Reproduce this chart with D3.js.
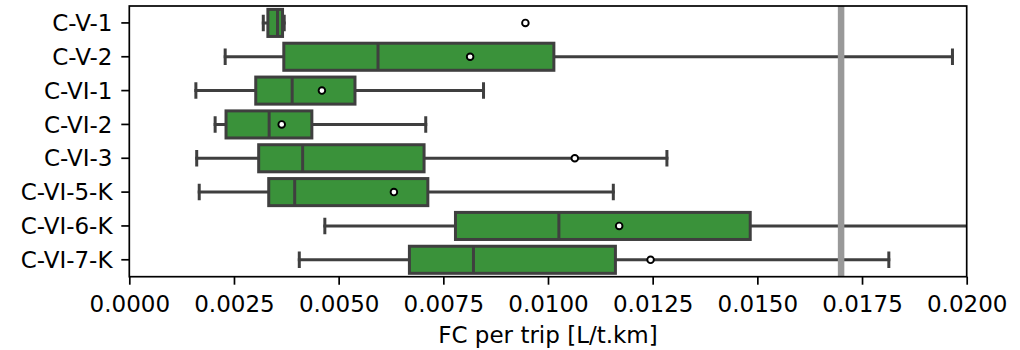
<!DOCTYPE html>
<html>
<head>
<meta charset="utf-8">
<script src="https://cdn.jsdelivr.net/npm/d3@7"></script>
<style>
  html, body { margin: 0; padding: 0; background: #fff; }
  svg { display: block; }
  text { font-family: "DejaVu Sans", sans-serif; }
</style>
</head>
<body>
<div id="chart"></div>
<script>
// ---- data ----
const categories = ["C-V-1", "C-V-2", "C-VI-1", "C-VI-2", "C-VI-3", "C-VI-5-K", "C-VI-6-K", "C-VI-7-K"];
const whiskerLow = [0.00320, 0.00229, 0.00159, 0.00205, 0.00161, 0.00167, 0.00467, 0.00406];
const q1Values   = [0.00331, 0.00369, 0.00302, 0.00231, 0.00309, 0.00333, 0.00779, 0.00669];
const medians    = [0.00354, 0.00594, 0.00389, 0.00334, 0.00414, 0.00395, 0.01026, 0.00822];
const q3Values   = [0.00366, 0.01014, 0.00539, 0.00436, 0.00704, 0.00713, 0.01483, 0.01161];
const whiskerHigh= [0.00370, 0.01966, 0.00846, 0.00708, 0.01284, 0.01156, 0.02150, 0.01814];
const means      = [0.00946, 0.00814, 0.00460, 0.00364, 0.01064, 0.00632, 0.01170, 0.01245];
const xTicks = [0, 0.0025, 0.005, 0.0075, 0.01, 0.0125, 0.015, 0.0175, 0.02];
const referenceLine = 0.017;
const xLabel = "FC per trip [L/t.km]";

(function () {
// ---- layout ----
const W = 1020, H = 350;
const pL = 129.3, pR = 966.7, pT = 6, pB = 276.7;
const fontSize = 23;

const svg = d3.select("#chart").append("svg").attr("width", W).attr("height", H);

const x = d3.scaleLinear().domain([0, 0.02]).range([pL, pR]);
const y = d3.scaleBand().domain(categories).range([pT, pB]).paddingInner(0).paddingOuter(0);
const bw = y.bandwidth() * 0.8;

svg.append("defs").append("clipPath").attr("id", "plotclip")
  .append("rect").attr("x", pL).attr("y", pT).attr("width", pR - pL).attr("height", pB - pT);

const plot = svg.append("g").attr("clip-path", "url(#plotclip)");

const rows = categories.map((c, i) => ({
  c, lo: whiskerLow[i], q1: q1Values[i], med: medians[i], q3: q3Values[i], hi: whiskerHigh[i], mean: means[i]
}));

const edge = "#3f3f3f", lw = 3;
const cy = d => y(d.c) + y.bandwidth() / 2;

const g = plot.selectAll("g.box").data(rows).enter().append("g").attr("class", "box");
// whiskers
g.append("line").attr("x1", d => x(d.lo)).attr("x2", d => x(d.q1))
  .attr("y1", cy).attr("y2", cy)
  .attr("stroke", edge).attr("stroke-width", lw).attr("stroke-linecap", "square");
g.append("line").attr("x1", d => x(d.q3)).attr("x2", d => x(d.hi))
  .attr("y1", cy).attr("y2", cy)
  .attr("stroke", edge).attr("stroke-width", lw).attr("stroke-linecap", "square");
// caps
[d => d.lo, d => d.hi].forEach(f => {
  g.append("line").attr("x1", d => x(f(d))).attr("x2", d => x(f(d)))
    .attr("y1", d => cy(d) - bw / 4).attr("y2", d => cy(d) + bw / 4)
    .attr("stroke", edge).attr("stroke-width", lw).attr("stroke-linecap", "square");
});
// box
g.append("rect").attr("x", d => x(d.q1)).attr("width", d => x(d.q3) - x(d.q1))
  .attr("y", d => cy(d) - bw / 2).attr("height", bw)
  .attr("fill", "#3a923a").attr("stroke", edge).attr("stroke-width", lw);
// median
g.append("line").attr("x1", d => x(d.med)).attr("x2", d => x(d.med))
  .attr("y1", d => cy(d) - bw / 2).attr("y2", d => cy(d) + bw / 2)
  .attr("stroke", edge).attr("stroke-width", lw);
// mean
g.append("circle").attr("cx", d => x(d.mean)).attr("cy", cy)
  .attr("r", 3.3).attr("fill", "#fff").attr("stroke", "#000").attr("stroke-width", 1.9);

// reference line
plot.append("line").attr("x1", x(referenceLine)).attr("x2", x(referenceLine))
  .attr("y1", pT).attr("y2", pB).attr("stroke", "#999999").attr("stroke-width", 6.5);

// axes
const xAxis = d3.axisBottom(x).tickValues(xTicks).tickFormat(d3.format(".4f")).tickSize(8).tickPadding(6);
const gx = svg.append("g").attr("transform", `translate(0,${pB})`).call(xAxis);
gx.select(".domain").remove();
gx.selectAll(".tick line").attr("stroke", "#000").attr("stroke-width", 1.7);
gx.selectAll(".tick text").attr("font-size", fontSize).attr("fill", "#000")
  .attr("dy", null).attr("y", 312.3 - pB);

const yAxis = d3.axisLeft(y).tickSize(8).tickPadding(8);
const gy = svg.append("g").attr("transform", `translate(${pL},0)`).call(yAxis);
gy.select(".domain").remove();
gy.selectAll(".tick line").attr("stroke", "#000").attr("stroke-width", 1.7);
gy.selectAll(".tick text").attr("font-size", fontSize).attr("fill", "#000")
  .attr("x", 112.5 - pL).attr("dy", null).attr("y", 8.2);

// frame
svg.append("rect").attr("x", pL).attr("y", pT).attr("width", pR - pL).attr("height", pB - pT)
  .attr("fill", "none").attr("stroke", "#000").attr("stroke-width", 1.7);

// x label
svg.append("text").attr("x", (pL + pR) / 2).attr("y", 343.3).attr("text-anchor", "middle")
  .attr("font-size", fontSize).attr("fill", "#000").text(xLabel);
})();
</script>
</body>
</html>
